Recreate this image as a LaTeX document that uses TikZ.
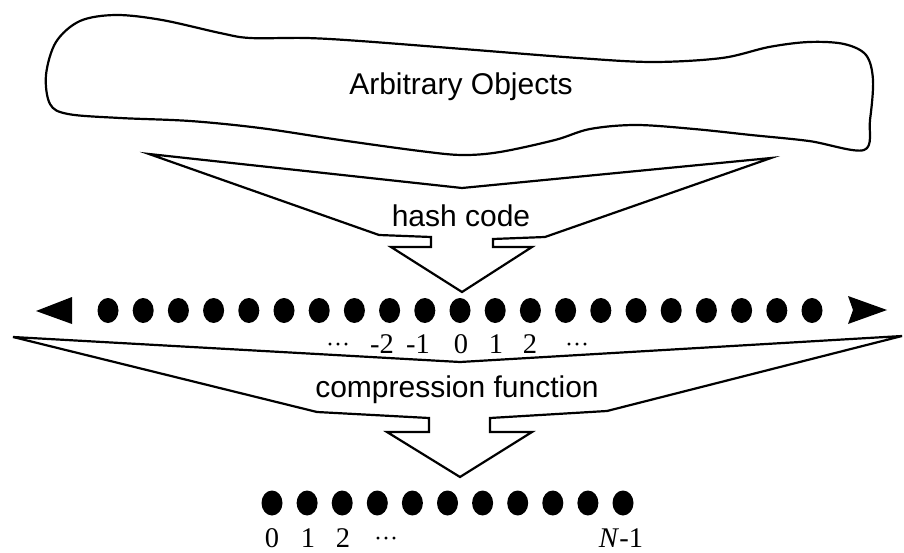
\documentclass[tikz,border=0pt]{standalone}
\usepackage{fontspec}
\setmainfont{Liberation Serif}
\newfontfamily\sansf{Liberation Sans}
\begin{document}
\begin{tikzpicture}[x=1pt,y=-1pt,
  outline/.style={line width=2.2pt,line join=miter},
  bigtext/.style={font=\sansf\fontsize{30}{36}\selectfont,inner sep=0pt,anchor=base},
  numtext/.style={font=\fontsize{28.5}{32}\selectfont,inner sep=0pt,anchor=base},
  elltext/.style={font=\fontsize{24}{28}\selectfont,inner sep=0pt,anchor=base}]
\useasboundingbox (0,0) rectangle (904,553);

% blob
\draw[outline] plot[smooth cycle,tension=0.55] coordinates {
 (116,15) (162,20) (220,33) (250,38) (306,38) (360,41) (463,49) (578,58)
 (653,62) (722,58) (769,47) (809,42) (844,44) (866,55) (873,80) (870,120)
 (864,150) (809,141) (751,135) (694,129) (636,125) (590,129) (555,140)
 (500,152) (462,155) (420,151) (340,140) (260,128) (190,121) (120,118)
 (68,114) (50,104) (46,75) (56,42) (80,21)};
\node[bigtext] (objs) at (461,95) {Arbitrary Objects};

% hash code arrow
\draw[outline] (149,154) -- (462,188) -- (771,158) -- (545,237) -- (493,239)
  -- (493,247) -- (532,247) -- (462,292) -- (391,247) -- (431,247)
  -- (431,237) -- (379,235) -- cycle;
\node[bigtext] (hash) at (461,227) {hash code};

% integer line
\fill (36,311) -- (72,297) -- (72,324) -- cycle;
\fill (887,310) -- (848,296) -- (853,310) -- (848,324) -- cycle;
\foreach \i in {0,...,20}{
  \fill ({108+35.2*\i},310.5) ellipse [x radius=10.5, y radius=12.5];
}
\node[elltext] (tdl) at (338,352) {···};
\node[numtext] (tm2) at (382,353) {-2};
\node[numtext] (tm1) at (418,353) {-1};
\node[numtext] (t0) at (461,353) {0};
\node[numtext] (t1) at (496,353) {1};
\node[numtext] (t2) at (530,353) {2};
\node[elltext] (tdr) at (577,352) {···};

% compression arrow
\draw[outline] (13,337) -- (460,362) -- (902,336) -- (607,411) -- (490,418)
  -- (490,432) -- (532,432) -- (460,477) -- (387,432) -- (429,432)
  -- (429,418) -- (317,412) -- cycle;
\node[bigtext] (comp) at (457,397) {compression function};

% bucket array
\foreach \i in {0,...,10}{
  \fill ({272+35.1*\i},503) ellipse [x radius=10.5, y radius=12.5];
}
\node[numtext] (b0) at (272,547) {0};
\node[numtext] (b1) at (308,547) {1};
\node[numtext] (b2) at (343,547) {2};
\node[elltext] (bd) at (386,546) {···};
\node[numtext] (bn) at (621,547) {\textit{N}-1};
\end{tikzpicture}
\end{document}
